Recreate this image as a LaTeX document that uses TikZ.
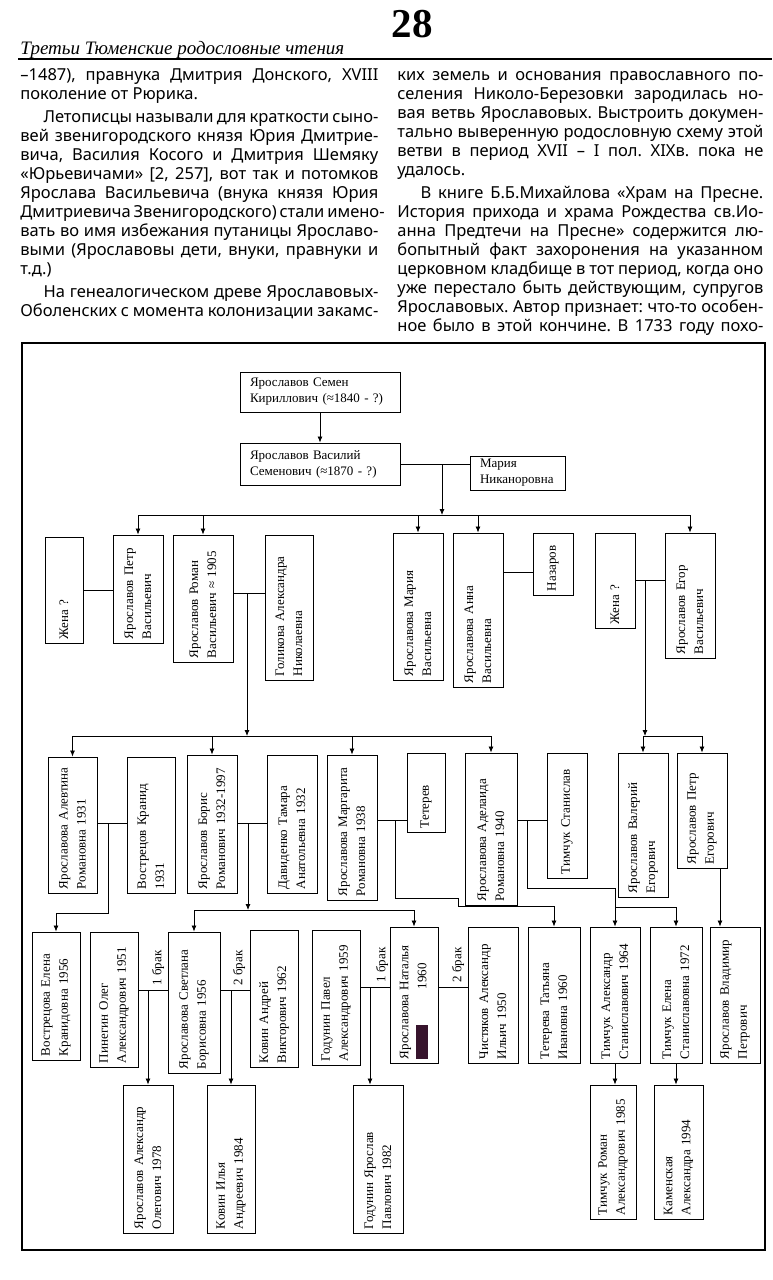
\documentclass[tikz,border=0pt]{standalone}
\usepackage{fontspec}
\usepackage{tikz}
\usetikzlibrary{arrows.meta}
\setmainfont{Liberation Serif}
\newfontfamily\colfont{Noto Sans}
\frenchspacing
\definecolor{redink}{RGB}{55,20,45}
\newcommand{\treefont}{\fontsize{13}{18}\selectfont}
\newcommand{\jl}[1]{\hbox to\hsize{#1}}
\newcommand{\lastl}[1]{\hbox{#1}}
\newcommand{\redact}[1]{\textcolor{redink}{\rule[-2pt]{#1}{12pt}}}
\tikzset{
  pbox/.style={draw, line width=0.9pt, rotate=90, align=left, inner xsep=4pt, inner ysep=3pt, font=\treefont},
  topbox/.style={draw, line width=0.9pt, align=left, inner xsep=10pt, font=\fontsize{13}{16}\selectfont},
  brak/.style={rotate=90, anchor=west, inner sep=1pt, font=\treefont},
}

\begin{document}
\begin{tikzpicture}[x=1pt, y=-1pt, line width=0.8pt, >={Latex[length=6pt,width=5pt]}]
  \useasboundingbox (0,0) rectangle (772,1280);
  \node[font=\fontsize{41}{41}\selectfont\bfseries] (pagenum) at (412,24) {28};
  \node[anchor=base west, inner sep=0pt, font=\fontsize{19}{19}\selectfont\itshape] (header) at (20,54) {Третьи Тюменские родословные чтения};
  \draw[line width=2pt] (18,59) -- (772,59);
  \node[anchor=base west, inner sep=0pt, font=\colfont\fontsize{16.5}{19}\selectfont] (colL) at (20,80) {\begin{minipage}[t]{358pt}
\jl{–1487), правнука Дмитрия Донского, XVIII}
\lastl{поколение от Рюрика.}
\vspace{4pt}
\jl{\hspace*{1.4em}Летописцы называли для краткости сыно-}
\jl{вей звенигородского князя Юрия Дмитрие-}
\jl{вича, Василия Косого и Дмитрия Шемяку}
\jl{«Юрьевичами» [2, 257], вот так и потомков}
\jl{Ярослава Васильевича (внука князя Юрия}
\jl{Дмитриевича Звенигородского) стали имено-}
\jl{вать во имя избежания путаницы Ярославо-}
\jl{выми (Ярославовы дети, внуки, правнуки и}
\lastl{т.д.)}
\vspace{4pt}
\jl{\hspace*{1.4em}На генеалогическом древе Ярославовых-}
\jl{Оболенских с момента колонизации закамс-}
\end{minipage}};
  \node[anchor=base west, inner sep=0pt, font=\colfont\fontsize{16.5}{19}\selectfont] (colR) at (397,80) {\begin{minipage}[t]{366pt}
\jl{ких земель и основания православного по-}
\jl{селения Николо-Березовки зародилась но-}
\jl{вая ветвь Ярославовых. Выстроить докумен-}
\jl{тально выверенную родословную схему этой}
\jl{ветви в период XVII – I пол. XIXв. пока не}
\lastl{удалось.}
\vspace{4pt}
\jl{\hspace*{1.4em}В книге Б.Б.Михайлова «Храм на Пресне.}
\jl{История прихода и храма Рождества св.Ио-}
\jl{анна Предтечи на Пресне» содержится лю-}
\jl{бопытный факт захоронения на указанном}
\jl{церковном кладбище в тот период, когда оно}
\jl{уже перестало быть действующим, супругов}
\jl{Ярославовых. Автор признает: что-то особен-}
\jl{ное было в этой кончине. В 1733 году похо-}
\end{minipage}};
  \draw[line width=1.4pt] (22,343) rectangle (765,1250);

  \node[topbox, text width=140pt, minimum height=40pt] (semen) at (320,392) {Ярославов Семен\\Кириллович (≈1840 - ?)};
  \node[topbox, text width=140pt, minimum height=42pt] (vasiliy) at (320,464) {Ярославов Василий\\Семенович (≈1870 - ?)};
  \node[topbox, text width=75pt, minimum height=34pt] (nikanorovna) at (517.5,473) {Мария\\Никаноровна};

  \node[pbox, text width=98pt, minimum height=38pt] (zhenaP) at (64,590) {Жена ?};
  \node[pbox, text width=100pt, minimum height=50pt] (petrV) at (138,589) {Ярославов Петр\\Васильевич};
  \node[pbox, text width=119pt, minimum height=60pt] (romanV) at (203,598.5) {Ярославов Роман\\Васильевич ≈ 1905};
  \node[pbox, text width=137pt, minimum height=48pt] (golikova) at (289,607.5) {Голикова Александра\\Николаевна};
  \node[pbox, text width=139pt, minimum height=50pt] (mariyaV) at (418,606.5) {Ярославова Мария\\Васильевна};
  \node[pbox, text width=146pt, minimum height=50pt] (annaV) at (478,610) {Ярославова Анна\\Васильевна};
  \node[pbox, text width=54pt, minimum height=40pt] (nazarov) at (553,564) {Назаров};
  \node[pbox, text width=87pt, minimum height=40pt] (zhenaE) at (615,580.5) {Жена ?};
  \node[pbox, text width=117pt, minimum height=50pt] (egorV) at (690,595.5) {Ярославов Егор\\Васильевич};

  \node[pbox, text width=128pt, minimum height=49pt] (alevtina) at (72.5,825) {Ярославова Алевтина\\Романовна 1931};
  \node[pbox, text width=128pt, minimum height=48pt] (kranid) at (151,825) {Вострецов Кранид\\1931};
  \node[pbox, text width=130pt, minimum height=50pt] (boris) at (212,824) {Ярославов Борис\\Романович 1932-1997};
  \node[pbox, text width=130pt, minimum height=50pt] (davidenko) at (292,824) {Давиденко Тамара\\Анатольевна 1932};
  \node[pbox, text width=137pt, minimum height=50pt] (margarita) at (352,827.5) {Ярославова Маргарита\\Романовна 1938};
  \node[pbox, text width=71pt, minimum height=38pt] (teterev) at (426,792.5) {Тетерев};
  \node[pbox, text width=144pt, minimum height=52pt] (adelaida) at (491,829) {Ярославова Аделаида\\Романовна 1940};
  \node[pbox, text width=117pt, minimum height=40pt] (timchukS) at (567,815.5) {Тимчук Станислав};
  \node[pbox, text width=136pt, minimum height=50pt] (valeriy) at (643,825) {Ярославов Валерий\\Егорович};
  \node[pbox, text width=107pt, minimum height=50pt] (petrE) at (702,810.5) {Ярославов Петр\\Егорович};

  \node[pbox, text width=120pt, minimum height=48pt] (elenaK) at (56,996) {Вострецова Елена\\Кранидовна 1956};
  \node[pbox, text width=127pt, minimum height=48pt] (pinegin) at (114,999.5) {Пинегин Олег\\Александрович 1951};
  \node[pbox, text width=133pt, minimum height=52pt] (svetlana) at (194,1002.5) {Ярославова Светлана\\Борисовна 1956};
  \node[pbox, text width=129pt, minimum height=48pt] (kovinA) at (274,998.5) {Ковин Андрей\\Викторович 1962};
  \node[pbox, text width=127pt, minimum height=48pt] (godunP) at (336,997.5) {Годунин Павел\\Александрович 1959};
  \node[pbox, text width=128pt, minimum height=48pt] (natalya) at (414,995) {Ярославова Наталья\\\redact{34pt}\hspace*{36pt}1960};
  \node[pbox, text width=128pt, minimum height=50pt] (chistyakov) at (493,995) {Чистяков Александр\\Ильич 1950};
  \node[pbox, text width=128pt, minimum height=52pt] (tatyana) at (554,995) {Тетерева Татьяна\\Ивановна 1960};
  \node[pbox, text width=128pt, minimum height=50pt] (timchukA) at (615,995) {Тимчук Александр\\Станиславович 1964};
  \node[pbox, text width=128pt, minimum height=52pt] (timchukE) at (676,995) {Тимчук Елена\\Станиславовна 1972};
  \node[pbox, text width=128pt, minimum height=50pt] (vladimir) at (735,995) {Ярославов Владимир\\Петрович};

  \node[pbox, text width=140pt, minimum height=50pt] (aleksandrO) at (148,1159) {Ярославов Александр\\Олегович 1978};
  \node[pbox, text width=140pt, minimum height=48pt] (ilya) at (231,1159) {Ковин Илья\\Андреевич 1984};
  \node[pbox, text width=140pt, minimum height=50pt] (yaroslavP) at (378,1159) {Годунин Ярослав\\Павлович 1982};
  \node[pbox, text width=126pt, minimum height=46pt] (romanA) at (613,1152) {Тимчук Роман\\Александрович 1985};
  \node[pbox, text width=126pt, minimum height=49pt] (kamenskaya) at (678.5,1152) {Каменская\\Александра 1994};

  \node[brak] (brak1) at (158,987) {1 брак};
  \node[brak] (brak2) at (239,987) {2 брак};
  \node[brak] (brak3) at (382,984) {1 брак};
  \node[brak] (brak4) at (458,984) {2 брак};

  \coordinate (bar1) at (0,515);
  \coordinate (bar2) at (0,736);
  \coordinate (bar3) at (0,910);
  \coordinate (m0) at (442,464);
  \coordinate (m1) at (247,593);
  \coordinate (m2) at (518,572);
  \coordinate (m3) at (645,580);
  \coordinate (m4) at (108,823);
  \coordinate (m5) at (248,823);
  \coordinate (m6) at (395,820);
  \coordinate (m7) at (527,820);
  \coordinate (m8) at (148,990);
  \coordinate (m9) at (231,990);
  \coordinate (m10) at (370,987);
  \coordinate (m11) at (453,987);
  \coordinate (j4) at (56,913);
  \coordinate (j6a) at (458,898);
  \coordinate (j6b) at (554,906);
  \coordinate (j7) at (615,888);
  \coordinate (j7b) at (615,907);
  \coordinate (j8) at (720,0);

  \draw[->] (semen) -- (vasiliy);
  \draw (vasiliy.east) -- (nikanorovna.west |- vasiliy.east);
  \draw[->] (m0) -- (m0 |- bar1);
  \draw (petrV.east |- bar1) -- (egorV.east |- bar1);
  \foreach \n in {petrV,romanV,mariyaV,annaV,egorV}{ \draw[->] (\n.east |- bar1) -- (\n.east); }

  \draw (zhenaP.south) -- (petrV.north |- zhenaP.south);
  \draw (romanV.south |- m1) -- (golikova.north |- m1);
  \draw[->] (m1) -- (m1 |- bar2);
  \draw (annaV.south |- m2) -- (nazarov.north |- m2);
  \draw (zhenaE.south |- m3) -- (egorV.north |- m3);
  \draw[->] (m3) -- (m3 |- bar2);
  \draw (alevtina.east |- bar2) -- (adelaida.east |- bar2);
  \foreach \n in {alevtina,boris,margarita,adelaida}{ \draw[->] (\n.east |- bar2) -- (\n.east); }
  \draw (valeriy.east |- bar2) -- (petrE.east |- bar2);
  \foreach \n in {valeriy,petrE}{ \draw[->] (\n.east |- bar2) -- (\n.east); }

  \draw (alevtina.south |- m4) -- (kranid.north |- m4);
  \draw[->] (m4) |- (j4) -- (elenaK.east);
  \draw (boris.south |- m5) -- (davidenko.north |- m5);
  \draw[->] (m5) -- (m5 |- bar3);
  \draw (svetlana.east |- bar3) -- (natalya.east |- bar3);
  \foreach \n in {svetlana,natalya}{ \draw[->] (\n.east |- bar3) -- (\n.east); }
  \draw (margarita.south |- m6) -- (teterev.north |- m6);
  \draw[->] (m6) |- (j6a) |- (j6b) -- (tatyana.east);
  \draw (adelaida.south |- m7) -- (timchukS.north |- m7);
  \draw[->] (m7) |- (j7) -- (timchukA.east);
  \draw[->] (j7b) -| (timchukE.east);
  \draw[->] (petrE.west -| j8) -- (vladimir.east -| j8);

  \draw (pinegin.south |- m8) -- (svetlana.north |- m8);
  \draw[->] (m8) -- (aleksandrO.east);
  \draw (svetlana.south |- m9) -- (kovinA.north |- m9);
  \draw[->] (m9) -- (ilya.east);
  \draw (godunP.south |- m10) -- (natalya.north |- m10);
  \draw[->] (m10) -- (m10 |- yaroslavP.east);
  \draw (natalya.south |- m11) -- (chistyakov.north |- m11);
  \draw[->] (timchukA.west) -- (timchukA.west |- romanA.east);
  \draw[->] (timchukE.west) -- (timchukE.west |- kamenskaya.east);
\end{tikzpicture}
\end{document}
